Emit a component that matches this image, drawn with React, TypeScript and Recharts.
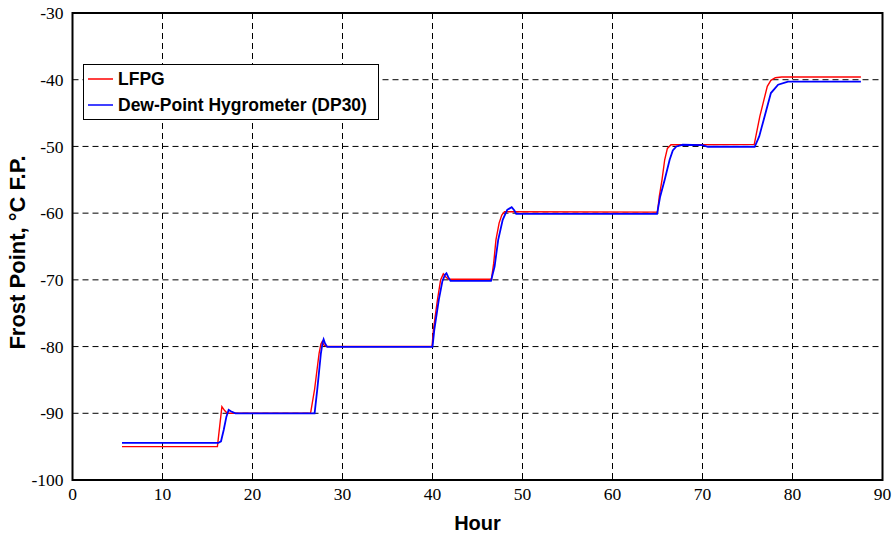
import React from 'react';
import { LineChart, Line, XAxis, YAxis, CartesianGrid, ReferenceArea, Label } from 'recharts';

// LFPG (red) series
const lfpgHours = [
  5.5, 16.1, 16.35, 16.6, 16.9, 17.2, 26.45, 26.9, 27.4, 27.6, 27.75, 27.95, 28.3,
  39.95, 40.1, 40.55, 40.9, 41.2, 41.5, 41.8, 46.55, 46.8, 47.05, 47.4, 47.7, 48.0,
  65.0, 65.2, 65.5, 65.8, 66.1, 66.5, 75.75, 76.37, 77.2, 77.6, 78.1, 78.8, 87.6,
];
const lfpgValues = [
  -95.0, -95.0, -92.0, -89.0, -89.6, -90.0, -90.0, -86.4, -81.0, -79.6, -79.25, -79.8, -80.0,
  -80.0, -77.5, -73.0, -70.0, -69.1, -69.6, -69.9, -69.9, -67.5, -64.0, -61.5, -60.3, -59.8,
  -59.85, -57.5, -55.0, -52.0, -50.3, -49.75, -49.7, -45.5, -41.0, -40.1, -39.7, -39.6, -39.6,
];

// Dew-Point Hygrometer (DP30) (blue) series
const dp30Hours = [
  5.5, 16.2, 16.5, 16.8, 17.1, 17.35, 17.6, 18.1, 26.9, 27.2, 27.6, 27.8, 27.9, 28.05, 28.3,
  40.0, 40.2, 40.7, 41.1, 41.4, 41.55, 41.75, 42.0, 46.5, 46.9, 47.3, 47.8, 48.3, 48.8, 49.1, 49.3,
  64.95, 65.3, 65.8, 66.35, 66.7, 67.1, 67.8, 70.0, 70.6, 75.8, 76.3, 76.9, 77.6, 78.4, 79.5, 87.6,
];
const dp30Values = [
  -94.45, -94.45, -94.2, -92.5, -90.5, -89.5, -89.7, -90.0, -90.0, -86.4, -81.0, -79.3, -78.9, -79.5, -80.05,
  -80.05, -77.5, -73.0, -70.2, -69.2, -69.0, -69.6, -70.15, -70.15, -68.0, -64.0, -61.0, -59.5, -59.1, -59.6, -60.1,
  -60.1, -57.5, -55.0, -52.0, -50.6, -50.0, -49.75, -49.8, -50.05, -50.05, -48.5, -45.5, -42.0, -40.75, -40.3, -40.3,
];

const xTicks = [0, 10, 20, 30, 40, 50, 60, 70, 80, 90];
const yTicks = [-100, -90, -80, -70, -60, -50, -40, -30];

const seriesNames = ['LFPG', 'Dew-Point Hygrometer (DP30)'];
const seriesColors = ['#ff0000', '#0000ff'];

const lfpgData = lfpgHours.map((h, i) => ({ hour: h, value: lfpgValues[i] }));
const dp30Data = dp30Hours.map((h, i) => ({ hour: h, value: dp30Values[i] }));

const SERIF = '"Liberation Serif", "Times New Roman", Times, serif';
const SANS = '"Liberation Sans", Arial, Helvetica, sans-serif';
const titleFont = { fontFamily: SANS, fontWeight: 'bold' as const, fontSize: 20, fill: '#000' };

const XTick = (props: any) => {
  const { x, y, payload } = props;
  return (
    <text x={x} y={y} dy="0.71em" textAnchor="middle" fontFamily={SERIF} fontSize={17.5} fill="#000">
      {payload.value}
    </text>
  );
};

const YTick = (props: any) => {
  const { x, y, payload } = props;
  return (
    <text x={x} y={y} dy="0.355em" textAnchor="end" fontFamily={SERIF} fontSize={17.5} fill="#000">
      {payload.value}
    </text>
  );
};

const YTitle = (props: any) => {
  const vb = props.viewBox || { x: 0, y: 0, width: 0, height: 0 };
  const cx = vb.x + 5;
  const cy = vb.y + vb.height / 2 + 6;
  return (
    <text
      x={cx}
      y={cy}
      dy="0.355em"
      textAnchor="middle"
      transform={`rotate(-90, ${cx}, ${cy})`}
      fontFamily={SANS}
      fontWeight="bold"
      fontSize={22}
      fill="#000"
    >
      Frost Point, °C F.P.
    </text>
  );
};

const LegendBox = () => (
  <div
    style={{
      position: 'absolute',
      left: 83,
      top: 64,
      width: 296,
      height: 56,
      boxSizing: 'border-box',
      border: '1.5px solid #000',
      background: '#fff',
      paddingTop: 1,
    }}
  >
    {seriesNames.map((name, i) => (
      <div key={name} style={{ display: 'flex', alignItems: 'center', height: 26 }}>
        <svg width={25} height={4} style={{ marginLeft: 4, marginRight: 5, display: 'block' }}>
          <line x1={0} y1={2} x2={25} y2={2} stroke={seriesColors[i]} strokeWidth={1.5} />
        </svg>
        <span style={{ fontFamily: SANS, fontWeight: 'bold', fontSize: 17.5, color: '#000', lineHeight: '26px', whiteSpace: 'nowrap' }}>
          {name}
        </span>
      </div>
    ))}
  </div>
);

export default function App() {
  return (
    <div style={{ position: 'absolute', left: 0, top: 0, width: 895, height: 535, background: '#fff' }}>
      <LineChart width={895} height={535} margin={{ top: 13, right: 12.5, left: 12.5, bottom: 0 }}>
        <CartesianGrid stroke="#000" strokeDasharray="6 4" strokeWidth={1} />
        <XAxis
          type="number"
          dataKey="hour"
          domain={[0, 90]}
          ticks={xTicks}
          allowDataOverflow
          height={55}
          axisLine={false}
          tickLine={false}
          tickSize={0}
          tickMargin={8}
          tick={<XTick />}
        >
          <Label value="Hour" position="insideBottom" offset={5} style={titleFont} />
        </XAxis>
        <YAxis
          type="number"
          domain={[-100, -30]}
          ticks={yTicks}
          allowDataOverflow
          width={60}
          axisLine={false}
          tickLine={false}
          tickSize={0}
          tickMargin={9}
          tick={<YTick />}
        >
          <Label content={<YTitle />} />
        </YAxis>
        <ReferenceArea x1={0} x2={90} y1={-100} y2={-30} fill="none" fillOpacity={0} stroke="#000" strokeWidth={2} ifOverflow="visible" />
        <Line
          data={lfpgData}
          dataKey="value"
          name={seriesNames[0]}
          type="linear"
          stroke={seriesColors[0]}
          strokeWidth={1.4}
          dot={false}
          activeDot={false}
          isAnimationActive={false}
        />
        <Line
          data={dp30Data}
          dataKey="value"
          name={seriesNames[1]}
          type="linear"
          stroke={seriesColors[1]}
          strokeWidth={1.8}
          dot={false}
          activeDot={false}
          isAnimationActive={false}
        />
      </LineChart>
      <LegendBox />
    </div>
  );
}
